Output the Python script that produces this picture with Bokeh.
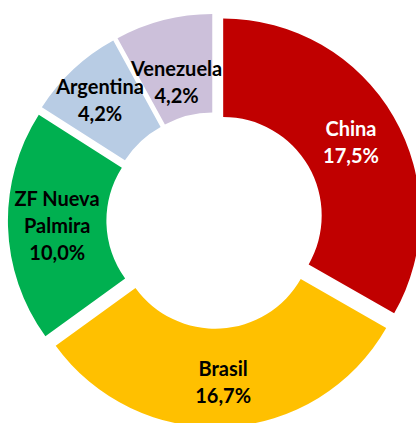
import numpy as np
from bokeh.plotting import figure
from bokeh.models import ColumnDataSource, Range1d
from bokeh.core.properties import value
from bokeh.embed import file_html
from bokeh.resources import INLINE

# ---- data ----
categories = ["China", "Brasil", "ZF Nueva\nPalmira", "Argentina", "Venezuela"]
shares = [17.5, 16.7, 10.0, 4.2, 4.2]
colors = ["#C00000", "#FFC000", "#00B050", "#B8CCE4", "#CCC0DA"]
label_colors = ["#FFFFFF", "#000000", "#000000", "#000000", "#000000"]

# ---- geometry (pixel-like data units) ----
CX, CY = 214.2, 219.9         # ring centre in picture pixels
R_OUT, R_IN = 197.0, 98.5
EXPLODE = 9.8
LINE_H = 27.0
X0, Y0 = 0, 0                 # where the figure lands in the picture
W, H = 416, 423
# small label nudges (data units, x right / y up)
nudge = {"Venezuela": (1, -14), "Argentina": (-7, 6), "Brasil": (0, -4)}

vals = np.array(shares, dtype=float)
frac = vals / vals.sum()
end_c = np.cumsum(frac) * 2 * np.pi
start_c = end_c - frac * 2 * np.pi
mid_c = (start_c + end_c) / 2

ox = EXPLODE * np.sin(mid_c)
oy = EXPLODE * np.cos(mid_c)

wedges = ColumnDataSource(dict(
    x=ox, y=oy,
    start=np.pi / 2 - start_c,
    end=np.pi / 2 - end_c,
    color=colors,
))

p = figure(width=W, height=H, output_backend="svg", toolbar_location=None,
           x_range=Range1d(X0 - CX, X0 + W - CX),
           y_range=Range1d(CY - Y0 - H, CY - Y0),
           x_axis_location=None, y_axis_location=None,
           min_border=0, outline_line_color=None)
p.grid.visible = False
p.background_fill_color = "white"
p.border_fill_color = "white"

p.annular_wedge(x="x", y="y", inner_radius=R_IN, outer_radius=R_OUT,
                start_angle="start", end_angle="end", direction="clock",
                fill_color="color", line_color=None, source=wedges)

# labels
lx, ly, lt, lc = [], [], [], []
rmid = (R_IN + R_OUT) / 2 + EXPLODE
for i, cat in enumerate(categories):
    lines = cat.split("\n") + [f"{shares[i]:.1f}%".replace(".", ",")]
    ax = rmid * np.sin(mid_c[i])
    ay = rmid * np.cos(mid_c[i])
    name = cat.split("\n")[0]
    dx, dy = nudge.get(name, (0, 0))
    n = len(lines)
    for j, t in enumerate(lines):
        lx.append(ax + dx)
        ly.append(ay + dy - (j - (n - 1) / 2) * LINE_H)
        lt.append(t)
        lc.append(label_colors[i])

p.text(x=lx, y=ly, text=lt, text_color=lc, text_font=value("Lato"),
       text_font_style="bold", text_font_size="20px",
       text_align="center", text_baseline="middle")

open("out.html", "w").write(file_html(p, INLINE))
